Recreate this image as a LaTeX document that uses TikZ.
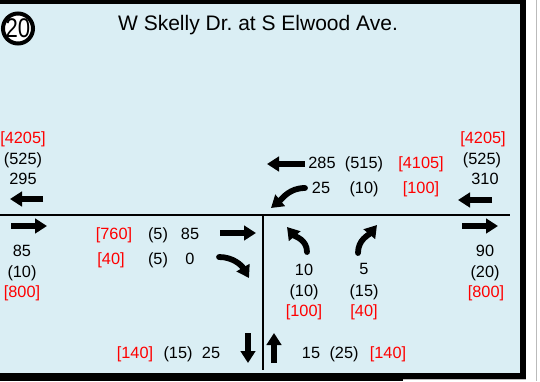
\documentclass[tikz,border=0pt]{standalone}
\usepackage{fontspec}
\setmainfont{Liberation Sans}
\usetikzlibrary{arrows.meta}
\definecolor{bg}{HTML}{DAEEF4}
\definecolor{edge}{HTML}{BBBBBB}
\frenchspacing
\begin{document}
\begin{tikzpicture}[x=1pt,y=-1pt,
  num/.style={font=\fontsize{16.3}{16}\selectfont, inner sep=0pt, anchor=base, yshift=-5.8pt},
  rednum/.style={num, text=red},
  fat/.style={line width=5.8pt, -{Triangle[width=14.5pt,length=12pt]}},
  curv/.style={line width=5.8pt, line cap=round, -{Triangle[width=14.5pt,length=12pt]}},
  road/.style={line width=1.6pt}]
\useasboundingbox (0,0) rectangle (540,381);
% background and frame
\fill[white] (0,0) rectangle (540,381);
\fill[bg] (0,0) rectangle (522,381);
\fill[black] (0,0) rectangle (525,4);
\fill[black] (520,0) rectangle (526,381);
\fill[black] (0,373) rectangle (526,381);
\fill[white] (403,379.5) rectangle (526,381);
\draw[edge, line width=0.6pt] (403,379.5) -- (526,379.5);
\draw[edge, line width=0.8pt] (536,0) -- (536,381);
% badge and title
\node[circle, draw=black, line width=4pt, fill=white, minimum size=30pt, inner sep=0pt] (badge) at (18,28.5) {};
\node[inner sep=0pt, font=\fontsize{27}{27}\selectfont, xscale=0.82] (badgetxt) at (18,28.5) {20};
\node[inner sep=0pt, anchor=base, font=\fontsize{21}{21}\selectfont] (title) at (258,30) {W Skelly Dr.\ at S Elwood Ave.};
% roads
\coordinate (hl) at (0,215);
\coordinate (hr) at (510,215);
\coordinate (vt) at (263,215);
\coordinate (vb) at (263,370);
\draw[road] (hl) -- (hr);
\draw[road] (vt) -- (vb);
% straight arrows
\draw[fat] (43,199) -- (10,199);
\draw[fat] (11,226) -- (47,226);
\draw[fat] (220,233) -- (256,233);
\draw[fat] (305,164) -- (267,164);
\draw[fat] (492,200) -- (458,200);
\draw[fat] (462,226) -- (498,226);
\draw[fat] (248,333) -- (248,363);
\draw[fat] (274,363) -- (274,333);
% curved arrows
\draw[curv] (219,257) to[out=0,in=120] (249,278);
\draw[curv] (305,188) to[out=180,in=40] (271,208);
\draw[curv] (307,252) to[out=90,in=-50] (287,227);
\draw[curv] (358,253) to[out=90,in=230] (377,225);
% left leg
\node[rednum] (l1) at (23,138) {[4205]};
\node[num] (l2) at (23,159) {(525)};
\node[num] (l3) at (23,179) {295};
\node[num] (l4) at (22,251) {85};
\node[num] (l5) at (22,272) {(10)};
\node[rednum] (l6) at (22,292) {[800]};
% eastbound approach
\node[rednum] (m1) at (114,234) {[760]};
\node[num] (m2) at (158,234) {(5)};
\node[num] (m3) at (190,234) {85};
\node[rednum] (m4) at (111,259) {[40]};
\node[num] (m5) at (158,259) {(5)};
\node[num] (m6) at (190,259) {0};
% westbound approach
\node[num] (t1) at (322,163) {285};
\node[num] (t2) at (364,163) {(515)};
\node[rednum] (t3) at (421,163) {[4105]};
\node[num] (t4) at (321,188) {25};
\node[num] (t5) at (364,188) {(10)};
\node[rednum] (t6) at (421,188) {[100]};
% right leg
\node[rednum] (r1) at (483,138) {[4205]};
\node[num] (r2) at (482,159) {(525)};
\node[num] (r3) at (485,179) {310};
\node[num] (r4) at (485,251) {90};
\node[num] (r5) at (485,272) {(20)};
\node[rednum] (r6) at (486,292) {[800]};
% northbound approach
\node[num] (n1) at (304,270) {10};
\node[num] (n2) at (304,291) {(10)};
\node[rednum] (n3) at (304,311) {[100]};
\node[num] (n4) at (364,269) {5};
\node[num] (n5) at (364,291) {(15)};
\node[rednum] (n6) at (364,311) {[40]};
% south leg
\node[rednum] (b1) at (135,353) {[140]};
\node[num] (b2) at (178,353) {(15)};
\node[num] (b3) at (211,353) {25};
\node[num] (b4) at (311,353) {15};
\node[num] (b5) at (344,353) {(25)};
\node[rednum] (b6) at (388,353) {[140]};
\end{tikzpicture}
\end{document}
